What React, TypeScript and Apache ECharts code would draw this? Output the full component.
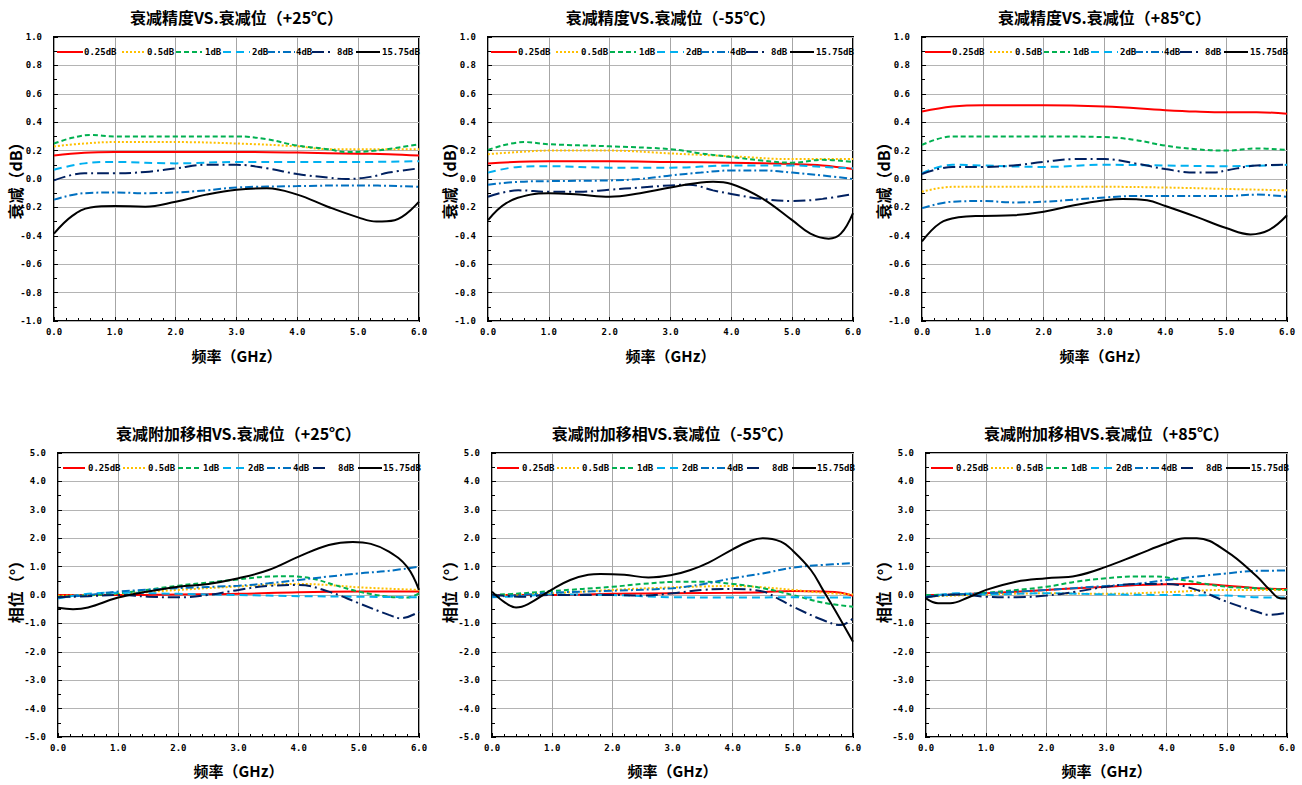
import React, { useEffect, useRef } from 'react';
import * as echarts from 'echarts';

// Attenuation steps shown in every panel, with their line colours and dash patterns
const STEPS = ['0.25dB', '0.5dB', '1dB', '2dB', '4dB', '8dB', '15.75dB'];
const COLORS = ['#ff0000', '#ffc000', '#00b050', '#00b0f0', '#0070c0', '#002060', '#000000'];
const DASHES: any[] = ['solid', [2, 2], [5, 3], [8, 5], [8, 3, 2, 3], [12, 4, 2, 4], 'solid'];

// Legend layout inside each plot (offsets from the plot's left edge, px)
const LEGEND_TOP_SAMPLE = [[3, 29], [68, 91], [122, 148], [169, 196], [213, 241], [258, 278], [302, 326]];
const LEGEND_TOP_TEXT = [30, 93, 151, 198, 242, 283, 328];
const LEGEND_BOT_SAMPLE = [[5, 27], [65, 87], [120, 142], [165, 189], [209, 235], [255, 271], [300, 324]];
const LEGEND_BOT_TEXT = [30, 90, 145, 190, 235, 280, 325];

const TEMPS = ['+25℃', '-55℃', '+85℃'];
const ATT_TITLES = TEMPS.map((t) => `衰减精度VS.衰减位（${t}）`);
const PH_TITLES = TEMPS.map((t) => `衰减附加移相VS.衰减位（${t}）`);
const X_NAME = '频率（GHz）';
const ATT_Y_NAME = '衰减（dB）';
const PH_Y_NAME = '相位（°）';

// Frequency axis (GHz) and value axes
const FREQ_MIN = 0;
const FREQ_MAX = 6;
const FREQ_STEP = 1;
const ATT_MIN = -1;
const ATT_MAX = 1;
const ATT_STEP = 0.2;
const PH_MIN = -5;
const PH_MAX = 5;
const PH_STEP = 1;

// Attenuation error (dB) vs frequency (GHz), +25℃
const ATT_P25_025 = [[0, 0.165], [0.5, 0.185], [1, 0.19], [2, 0.19], [3, 0.19], [4, 0.186], [5, 0.178], [5.5, 0.175], [6, 0.165]];
const ATT_P25_05 = [[0, 0.23], [0.5, 0.25], [1, 0.26], [2, 0.26], [3, 0.25], [4, 0.23], [4.5, 0.21], [5, 0.21], [5.5, 0.21], [6, 0.21]];
const ATT_P25_1 = [[0, 0.25], [0.3, 0.29], [0.6, 0.31], [1, 0.3], [2, 0.3], [3, 0.3], [3.5, 0.28], [4, 0.235], [4.5, 0.21], [4.8, 0.19], [5.3, 0.2], [6, 0.245]];
const ATT_P25_2 = [[0, 0.065], [0.5, 0.11], [1, 0.12], [2, 0.11], [3, 0.12], [4, 0.12], [5, 0.12], [6, 0.125]];
const ATT_P25_4 = [[0, -0.145], [0.5, -0.1], [1, -0.095], [1.5, -0.1], [2, -0.095], [2.5, -0.08], [3, -0.06], [4, -0.05], [5, -0.045], [6, -0.055]];
const ATT_P25_8 = [[0, -0.01], [0.5, 0.04], [1, 0.04], [1.5, 0.05], [2, 0.075], [2.5, 0.1], [3, 0.1], [3.5, 0.075], [4, 0.035], [4.5, 0.01], [4.8, 0], [5.2, 0.015], [5.5, 0.045], [6, 0.075]];
const ATT_P25_1575 = [[0, -0.385], [0.3, -0.26], [0.6, -0.2], [1, -0.19], [1.5, -0.195], [2, -0.16], [2.5, -0.11], [3, -0.075], [3.5, -0.065], [4, -0.11], [4.5, -0.195], [5, -0.27], [5.3, -0.3], [5.6, -0.29], [6, -0.16]];

// Attenuation error (dB), -55℃
const ATT_M55_025 = [[0, 0.11], [1, 0.125], [2, 0.125], [3, 0.12], [4, 0.115], [5, 0.105], [5.5, 0.095], [6, 0.07]];
const ATT_M55_05 = [[0, 0.175], [0.5, 0.19], [1, 0.2], [2, 0.2], [3, 0.18], [3.5, 0.17], [4, 0.16], [5, 0.14], [6, 0.14]];
const ATT_M55_1 = [[0, 0.205], [0.6, 0.26], [1, 0.245], [2, 0.23], [3, 0.21], [3.5, 0.18], [4, 0.155], [4.5, 0.13], [5, 0.115], [5.5, 0.135], [6, 0.12]];
const ATT_M55_2 = [[0, 0.045], [0.5, 0.085], [1, 0.09], [2, 0.08], [3, 0.08], [4, 0.095], [5, 0.095], [5.5, 0.085], [6, 0.075]];
const ATT_M55_4 = [[0, -0.04], [0.5, -0.02], [1, -0.015], [2, -0.01], [2.5, 0], [3, 0.025], [3.5, 0.045], [4, 0.06], [4.5, 0.06], [5, 0.045], [5.5, 0.025], [6, 0]];
const ATT_M55_8 = [[0, -0.125], [0.5, -0.08], [1, -0.09], [1.5, -0.09], [2, -0.075], [2.5, -0.06], [3, -0.045], [3.3, -0.04], [3.7, -0.08], [4, -0.105], [4.5, -0.14], [5, -0.155], [5.5, -0.14], [6, -0.105]];
const ATT_M55_1575 = [[0, -0.29], [0.3, -0.17], [0.7, -0.11], [1, -0.1], [1.5, -0.11], [2, -0.125], [2.5, -0.1], [3, -0.06], [3.5, -0.025], [3.7, -0.02], [4, -0.035], [4.5, -0.135], [5, -0.29], [5.3, -0.385], [5.6, -0.42], [5.8, -0.385], [6, -0.24]];

// Attenuation error (dB), +85℃
const ATT_P85_025 = [[0, 0.475], [0.5, 0.51], [1, 0.52], [2, 0.52], [3, 0.51], [4, 0.485], [4.5, 0.475], [5, 0.47], [5.5, 0.47], [6, 0.46]];
const ATT_P85_05 = [[0, -0.09], [0.5, -0.055], [1, -0.055], [2, -0.055], [3, -0.055], [4, -0.06], [5, -0.07], [6, -0.08]];
const ATT_P85_1 = [[0, 0.24], [0.5, 0.3], [1, 0.3], [2, 0.3], [3, 0.295], [3.5, 0.275], [4, 0.235], [4.5, 0.21], [5, 0.2], [5.5, 0.215], [6, 0.205]];
const ATT_P85_2 = [[0, 0.04], [0.5, 0.1], [1, 0.095], [2, 0.085], [3, 0.1], [4, 0.095], [5, 0.09], [6, 0.1]];
const ATT_P85_4 = [[0, -0.205], [0.5, -0.16], [1, -0.155], [1.5, -0.165], [2, -0.16], [2.5, -0.145], [3, -0.13], [3.5, -0.12], [4, -0.12], [5, -0.12], [5.5, -0.11], [6, -0.125]];
const ATT_P85_8 = [[0, 0.035], [0.5, 0.085], [1, 0.085], [1.5, 0.095], [2, 0.12], [2.5, 0.14], [3, 0.14], [3.5, 0.11], [4, 0.07], [4.5, 0.045], [4.8, 0.045], [5, 0.06], [5.5, 0.095], [6, 0.1]];
const ATT_P85_1575 = [[0, -0.44], [0.3, -0.31], [0.6, -0.27], [1, -0.26], [1.5, -0.255], [2, -0.23], [2.5, -0.185], [3, -0.15], [3.3, -0.14], [3.7, -0.15], [4, -0.19], [4.5, -0.265], [5, -0.345], [5.4, -0.39], [5.7, -0.36], [6, -0.255]];

// Additional phase shift (°) vs frequency (GHz), +25℃
const PH_P25_025 = [[0, 0], [1, 0], [2, 0.02], [3, 0.04], [4, 0.1], [5, 0.12], [6, 0.12]];
const PH_P25_05 = [[0, -0.03], [1, 0.04], [2, 0.18], [3, 0.3], [4, 0.39], [4.5, 0.35], [5, 0.27], [6, 0.18]];
const PH_P25_1 = [[0, -0.06], [1, 0.06], [2, 0.33], [2.5, 0.44], [3, 0.55], [3.5, 0.65], [3.8, 0.66], [4.2, 0.59], [4.6, 0.35], [5, 0.12], [5.5, -0.06], [5.8, -0.09], [6, 0.06]];
const PH_P25_2 = [[0, -0.12], [0.5, 0.04], [1, 0.08], [2, 0.04], [3, 0], [4, -0.04], [5, -0.06], [6, -0.08]];
const PH_P25_4 = [[0, -0.09], [0.5, 0], [1, 0.12], [2, 0.24], [3, 0.33], [3.5, 0.41], [4, 0.53], [4.5, 0.65], [5, 0.76], [5.5, 0.85], [6, 1.0]];
const PH_P25_8 = [[0, -0.08], [0.5, -0.04], [1, 0], [1.5, -0.06], [2, -0.08], [2.5, 0], [3, 0.18], [3.5, 0.32], [4, 0.35], [4.5, 0.12], [5, -0.29], [5.5, -0.7], [5.7, -0.82], [6, -0.59]];
const PH_P25_1575 = [[0, -0.45], [0.25, -0.5], [0.5, -0.44], [1, -0.09], [1.5, 0.12], [2, 0.29], [2.5, 0.39], [3, 0.59], [3.5, 0.88], [4, 1.35], [4.5, 1.76], [4.9, 1.87], [5.2, 1.8], [5.5, 1.53], [5.8, 1.0], [6, 0.18]];

// Additional phase shift (°), -55℃
const PH_M55_025 = [[0, 0], [1, 0], [2, 0.04], [3, 0.06], [4, 0.08], [4.5, 0.1], [5, 0.14], [5.5, 0.12], [5.8, 0.08], [6, -0.03]];
const PH_M55_05 = [[0, -0.02], [1, 0.06], [2, 0.18], [3, 0.27], [3.5, 0.3], [4, 0.32], [4.5, 0.27], [5, 0.18], [5.5, 0.08], [6, 0.02]];
const PH_M55_1 = [[0, 0], [0.5, 0.06], [1, 0.14], [2, 0.29], [2.5, 0.39], [3, 0.46], [3.5, 0.47], [4, 0.39], [4.5, 0.24], [5, 0], [5.5, -0.27], [6, -0.41]];
const PH_M55_2 = [[0, -0.08], [0.5, -0.04], [1, 0.02], [2, 0], [3, -0.08], [4, -0.09], [5, -0.08], [5.5, -0.09], [6, -0.09]];
const PH_M55_4 = [[0, -0.06], [0.5, 0], [1, 0.08], [2, 0.15], [3, 0.24], [3.5, 0.38], [4, 0.59], [4.5, 0.76], [5, 0.96], [5.5, 1.06], [6, 1.12]];
const PH_M55_8 = [[0, 0.02], [0.5, -0.06], [1, 0], [2, 0], [2.5, -0.02], [3, 0.06], [3.5, 0.18], [4, 0.21], [4.5, 0.12], [4.8, -0.18], [5, -0.41], [5.5, -0.88], [5.8, -1.06], [6, -0.82]];
const PH_M55_1575 = [[0, 0.12], [0.2, -0.24], [0.4, -0.44], [0.6, -0.32], [1, 0.2], [1.3, 0.53], [1.6, 0.71], [1.8, 0.74], [2.2, 0.71], [2.6, 0.62], [3, 0.71], [3.3, 0.88], [3.6, 1.14], [4, 1.61], [4.3, 1.91], [4.5, 2.0], [4.8, 1.88], [5, 1.56], [5.3, 0.88], [5.5, 0.18], [5.7, -0.53], [6, -1.65]];

// Additional phase shift (°), +85℃
const PH_P85_025 = [[0, 0], [0.5, 0.02], [1, 0.06], [2, 0.18], [2.5, 0.24], [3, 0.29], [3.5, 0.35], [4, 0.38], [4.5, 0.39], [5, 0.33], [5.5, 0.24], [6, 0.21]];
const PH_P85_05 = [[0, -0.06], [1, 0.02], [2, 0.06], [3, 0.04], [4, 0.1], [5, 0.18], [6, 0.18]];
const PH_P85_1 = [[0, 0], [0.5, 0.02], [1, 0.08], [2, 0.29], [2.5, 0.47], [3, 0.59], [3.5, 0.65], [3.8, 0.65], [4.2, 0.55], [4.6, 0.41], [5, 0.29], [5.5, 0.24], [6, 0.18]];
const PH_P85_2 = [[0, -0.09], [0.5, 0.06], [1, 0.02], [2, 0.06], [3, 0.02], [4, 0], [5, -0.02], [5.5, -0.08], [6, -0.09]];
const PH_P85_4 = [[0, -0.06], [0.5, 0.02], [1, 0.06], [2, 0.18], [3, 0.32], [3.5, 0.39], [4, 0.53], [4.5, 0.65], [5, 0.76], [5.5, 0.85], [6, 0.86]];
const PH_P85_8 = [[0, -0.08], [0.5, 0.02], [1, -0.06], [1.5, -0.08], [2, -0.02], [2.5, 0.12], [3, 0.29], [3.5, 0.39], [4, 0.39], [4.5, 0.18], [5, -0.24], [5.5, -0.59], [5.7, -0.7], [6, -0.62]];
const PH_P85_1575 = [[0, -0.12], [0.2, -0.29], [0.4, -0.29], [0.7, -0.09], [1, 0.18], [1.5, 0.47], [2, 0.59], [2.5, 0.68], [3, 1.0], [3.5, 1.41], [4, 1.82], [4.3, 2.0], [4.5, 2.0], [5, 1.53], [5.5, 0.65], [5.7, 0.21], [5.9, -0.12], [6, -0.12]];

const ATT_PANELS = [
  [ATT_P25_025, ATT_P25_05, ATT_P25_1, ATT_P25_2, ATT_P25_4, ATT_P25_8, ATT_P25_1575],
  [ATT_M55_025, ATT_M55_05, ATT_M55_1, ATT_M55_2, ATT_M55_4, ATT_M55_8, ATT_M55_1575],
  [ATT_P85_025, ATT_P85_05, ATT_P85_1, ATT_P85_2, ATT_P85_4, ATT_P85_8, ATT_P85_1575],
];
const PH_PANELS = [
  [PH_P25_025, PH_P25_05, PH_P25_1, PH_P25_2, PH_P25_4, PH_P25_8, PH_P25_1575],
  [PH_M55_025, PH_M55_05, PH_M55_1, PH_M55_2, PH_M55_4, PH_M55_8, PH_M55_1575],
  [PH_P85_025, PH_P85_05, PH_P85_1, PH_P85_2, PH_P85_4, PH_P85_8, PH_P85_1575],
];

const CJK = '"Noto Sans CJK SC", sans-serif';
const MONO = '"DejaVu Sans Mono", monospace';

// Plot-area geometry of the two rows; yNameDx / yNameDy place the rotated value-axis title
const TOP_ROW = {
  lefts: [54, 488, 922], top: 37, width: 365, height: 284,
  sample: LEGEND_TOP_SAMPLE, text: LEGEND_TOP_TEXT, yNameDx: -39, yNameDy: -2,
};
const BOT_ROW = {
  lefts: [58, 492, 926], top: 453, width: 361, height: 284,
  sample: LEGEND_BOT_SAMPLE, text: LEGEND_BOT_TEXT, yNameDx: -43, yNameDy: -7,
};

function buildOption() {
  const grid: any[] = [];
  const xAxis: any[] = [];
  const yAxis: any[] = [];
  const series: any[] = [];
  const graphic: any[] = [];

  const addPanel = (
    row: typeof TOP_ROW,
    col: number,
    title: string,
    yName: string,
    yMin: number,
    yMax: number,
    yStep: number,
    xNameGap: number,
    lines: number[][][],
  ) => {
    const idx = grid.length;
    const left = row.lefts[col];
    grid.push({
      left,
      top: row.top,
      width: row.width,
      height: row.height,
      show: true,
      borderColor: '#000',
      borderWidth: 2,
      backgroundColor: '#fff',
      z: 0,
    });
    const labelStyle = { color: '#000', fontFamily: MONO, fontWeight: 'bold', fontSize: 9 };
    xAxis.push({
      type: 'value',
      gridIndex: idx,
      min: FREQ_MIN,
      max: FREQ_MAX,
      interval: FREQ_STEP,
      name: X_NAME,
      nameLocation: 'middle',
      nameGap: xNameGap,
      nameMoveOverlap: false,
      nameTextStyle: { color: '#000', fontFamily: CJK, fontWeight: 'bold', fontSize: 15 },
      axisLine: { show: false, onZero: false },
      axisTick: { show: true, inside: true, length: 4, lineStyle: { color: '#000' } },
      minorTick: { show: true, splitNumber: 5, length: 3, lineStyle: { color: '#000' } },
      splitLine: { show: true, lineStyle: { color: '#a6a6a6', width: 1 } },
      axisLabel: { ...labelStyle, margin: 6, formatter: (v: number) => v.toFixed(1) },
    });
    yAxis.push({
      type: 'value',
      gridIndex: idx,
      min: yMin,
      max: yMax,
      interval: yStep,
      axisLine: { show: false, onZero: false },
      axisTick: { show: true, inside: true, length: 4, lineStyle: { color: '#000' } },
      minorTick: { show: true, splitNumber: 2, length: 3, lineStyle: { color: '#000' } },
      splitLine: { show: true, lineStyle: { color: '#b4b4b4', width: 1 } },
      axisLabel: { ...labelStyle, margin: 12, formatter: (v: number) => v.toFixed(1) },
    });
    lines.forEach((pts, k) => {
      series.push({
        type: 'line',
        name: STEPS[k],
        xAxisIndex: idx,
        yAxisIndex: idx,
        data: pts,
        smooth: 0.4,
        showSymbol: false,
        symbol: 'none',
        z: 3 + k,
        lineStyle: { color: COLORS[k], width: 2, type: DASHES[k] },
        itemStyle: { color: COLORS[k] },
      });
    });

    // In-plot legend: a line sample and a label for each step
    const cy = row.top + 15;
    STEPS.forEach((s, k) => {
      const [x0, x1] = row.sample[k];
      const dash = DASHES[k];
      graphic.push({
        type: 'line',
        z: 20,
        shape: { x1: left + x0, y1: cy, x2: left + x1, y2: cy },
        style: {
          stroke: COLORS[k],
          lineWidth: 2,
          lineDash: Array.isArray(dash) ? dash : null,
        },
      });
      graphic.push({
        type: 'text',
        z: 20,
        x: left + row.text[k],
        y: cy,
        style: {
          text: s,
          fill: '#000',
          font: `bold 9px ${MONO}`,
          align: 'left',
          verticalAlign: 'middle',
        },
      });
    });

    // Rotated value-axis title
    graphic.push({
      type: 'text',
      z: 20,
      x: left + row.yNameDx,
      y: row.top + row.height / 2 + row.yNameDy,
      rotation: Math.PI / 2,
      style: {
        text: yName,
        fill: '#000',
        font: `bold 16px ${CJK}`,
        align: 'center',
        verticalAlign: 'middle',
      },
    });

    // Panel title
    graphic.push({
      type: 'text',
      z: 20,
      x: left + row.width / 2,
      y: row.top - 20,
      style: {
        text: title,
        fill: '#000',
        font: `bold 16px ${CJK}`,
        align: 'center',
        verticalAlign: 'middle',
      },
    });
  };

  for (let c = 0; c < 3; c++) {
    addPanel(TOP_ROW, c, ATT_TITLES[c], ATT_Y_NAME, ATT_MIN, ATT_MAX, ATT_STEP, 27, ATT_PANELS[c]);
  }
  for (let c = 0; c < 3; c++) {
    addPanel(BOT_ROW, c, PH_TITLES[c], PH_Y_NAME, PH_MIN, PH_MAX, PH_STEP, 26, PH_PANELS[c]);
  }

  return {
    animation: false,
    backgroundColor: '#fff',
    grid,
    xAxis,
    yAxis,
    series,
    graphic,
  };
}

export default function App() {
  const ref = useRef<HTMLDivElement>(null);
  useEffect(() => {
    if (!ref.current) return;
    const chart = echarts.init(ref.current, undefined, { renderer: 'svg' });
    chart.setOption(buildOption() as any);
    return () => chart.dispose();
  }, []);
  return (
    <div
      ref={ref}
      style={{ position: 'fixed', left: 0, top: 0, width: 1302, height: 785, background: '#fff' }}
    />
  );
}
